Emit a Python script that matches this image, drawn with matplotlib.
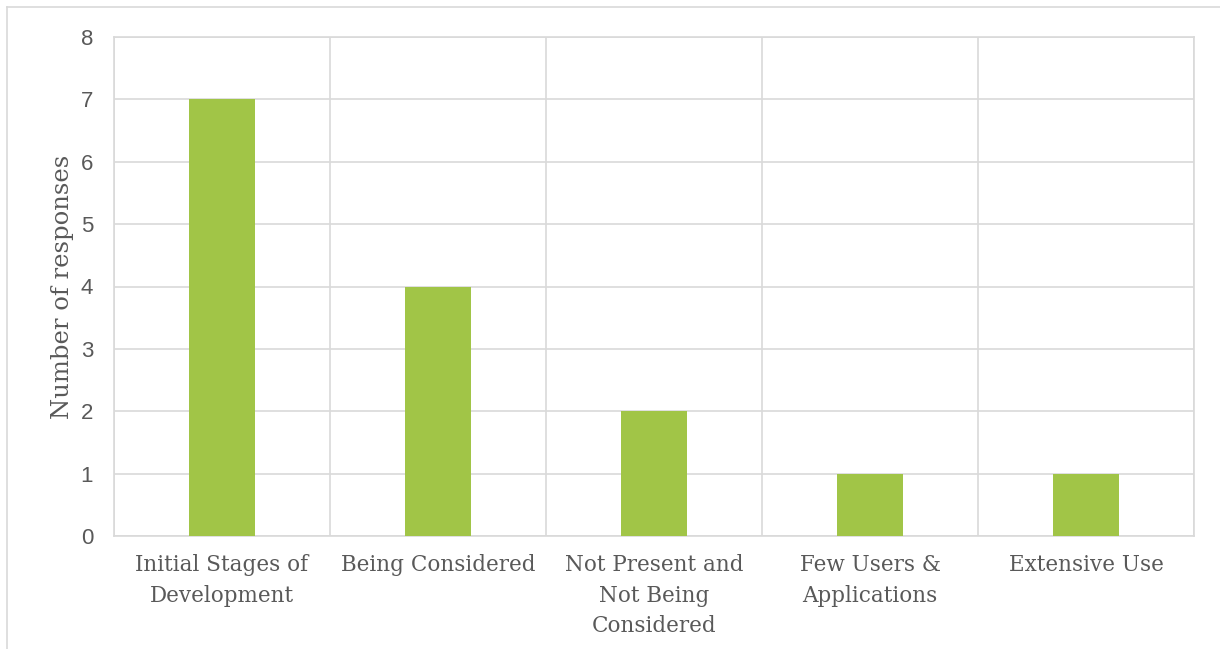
import matplotlib
matplotlib.use('Agg')
from matplotlib import pyplot as plt
from matplotlib.lines import Line2D
import numpy as np

# datos
categorias = ["Initial Stages of\nDevelopment", "Being Considered",
              "Not Present and\nNot Being\nConsidered", "Few Users &\nApplications",
              "Extensive Use"]
respuestas = [7, 4, 2, 1, 1]
ticks_y = [0, 1, 2, 3, 4, 5, 6, 7, 8]

gris = '#D9D9D9'
texto = '#595959'
verde = '#A1C547'
serif = ['DejaVu Serif Condensed', 'DejaVu Serif']

fig = plt.figure(figsize=(12.2, 6.49), dpi=100)
ax = fig.add_axes([114/1220, 113/649, (1194-114)/1220, (536-37)/649])

x = np.arange(len(categorias))
ax.bar(x, respuestas, width=0.31, color=verde, zorder=3)

ax.set_xlim(-0.5, len(categorias) - 0.5)
ax.set_ylim(0, 8)
ax.set_yticks(ticks_y)
ax.set_yticklabels([str(t) for t in ticks_y], fontsize=16, color=texto,
                   family='Liberation Sans')
ax.set_xticks(x)
ax.set_xticklabels(categorias, fontsize=15.5, color=texto, family=serif,
                   linespacing=1.5, va='top')
ax.set_xticks(np.arange(-0.5, len(categorias)), minor=True)
ax.tick_params(axis='both', which='both', length=0)
ax.tick_params(axis='y', pad=15)
ax.tick_params(axis='x', pad=13)

ax.grid(axis='y', which='major', color=gris, linewidth=1.2, zorder=0)
ax.grid(axis='x', which='minor', color=gris, linewidth=1.2, zorder=0)
for s in ax.spines.values():
    s.set_color(gris)
    s.set_linewidth(1.2)

ax.set_ylabel('Number of responses', fontsize=17.5, color=texto, family=serif,
              labelpad=5)

# borde exterior del grafico
x0 = 7/1220
y0 = 1 - 7/649
fig.add_artist(Line2D([x0, x0], [0, y0], transform=fig.transFigure, color=gris, linewidth=1.2))
fig.add_artist(Line2D([x0, 1], [y0, y0], transform=fig.transFigure, color=gris, linewidth=1.2))

plt.savefig('out.png', dpi=100)
